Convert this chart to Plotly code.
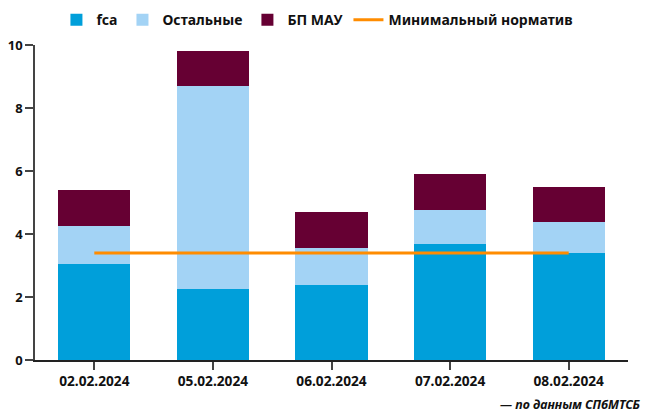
import plotly.graph_objs as go

# даты торгов
dates = ['02.02.2024', '05.02.2024', '06.02.2024', '07.02.2024', '08.02.2024']

fca = [3.05, 2.25, 2.38, 3.68, 3.40]
others = [1.20, 6.45, 1.18, 1.08, 0.98]
bp_mau = [1.15, 1.11, 1.14, 1.14, 1.11]
min_norm = [3.4, 3.4, 3.4, 3.4, 3.4]

FONT = 'Noto Sans'

fig = go.Figure()
fig.add_trace(go.Bar(x=dates, y=fca, name='fca', marker_color='#009FDA',
                     marker_line_width=0))
fig.add_trace(go.Bar(x=dates, y=others, name='Остальные', marker_color='#A3D3F5',
                     marker_line_width=0))
fig.add_trace(go.Bar(x=dates, y=bp_mau, name='БП МАУ', marker_color='#660033',
                     marker_line_width=0))
fig.add_trace(go.Scatter(x=dates, y=min_norm, name='Минимальный норматив',
                         mode='lines', line=dict(color='#FF8C00', width=3)))

# страница добавляет отступ 8px, поэтому фигура чуть меньше окна
fig.update_layout(
    width=646, height=407,
    barmode='stack', bargap=0.39,
    plot_bgcolor='white', paper_bgcolor='white',
    margin=dict(l=27, r=26, t=37, b=55),
    font=dict(family=FONT, size=13, color='#111', weight='bold'),
    legend=dict(orientation='h', x=0.479, xanchor='center',
                xref='container', yref='container', y=0.97, yanchor='middle',
                font=dict(size=14, weight='bold'), traceorder='normal',
                itemwidth=30, tracegroupgap=0),
    xaxis=dict(showline=True, linecolor='#222', linewidth=1.5, ticks='outside',
               ticklen=8, tickcolor='#444', tickwidth=1.5, showgrid=False,
               automargin=False, tickfont=dict(size=13.7, weight='bold')),
    yaxis=dict(range=[0, 10], dtick=2, showline=True, linecolor='#444', linewidth=1.5,
               ticks='outside', ticklen=8, tickcolor='#444', tickwidth=1.5,
               showgrid=False, zeroline=False, automargin=False,
               tickfont=dict(size=13, weight='bold')),
    annotations=[dict(text='<i>— по данным СПбМТСБ</i>', xref='paper', yref='paper',
                      x=1.026, y=-0.14, xanchor='right', yanchor='middle',
                      showarrow=False, font=dict(size=12.5, weight='bold'))],
)

fig.write_html("out.html")
